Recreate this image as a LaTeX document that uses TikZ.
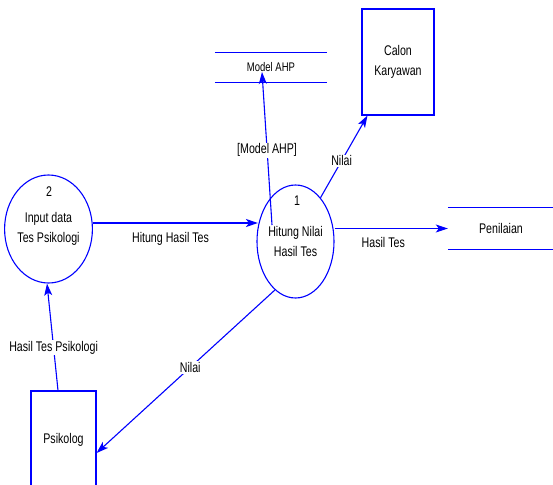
\documentclass[tikz,border=0pt]{standalone}
\usepackage{fontspec}
\setmainfont{Liberation Sans}[FakeStretch=0.76]
\usetikzlibrary{shapes.geometric,arrows.meta}
\begin{document}
\begin{tikzpicture}[x=1pt,y=-1pt, font=\fontsize{14pt}{20pt}\selectfont,
  flow/.style={draw=blue, line width=1.1pt, -{Stealth[length=12pt,width=8pt,inset=3pt]}},
  proc/.style={ellipse, draw=blue, line width=1.1pt, inner sep=0pt, align=center},
  ent/.style={rectangle, draw=blue, line width=1.1pt, align=center, inner sep=0pt},
  store/.style={rectangle, inner sep=0pt, align=center},
  storeline/.style={draw=blue, line width=1.1pt},
  lbl/.style={fill=white, inner sep=1pt},
  plain/.style={inner sep=0pt}
]
\useasboundingbox (0,0) rectangle (553,484);
\clip (0,0) rectangle (553,484);
\node[proc, minimum width=73pt, minimum height=108pt] (c2) at (48.5,229) {Input data\\Tes Psikologi};
\node[plain] (n2) at (49,192) {2};
\node[proc, minimum width=77pt, minimum height=113pt] (c1) at (295.5,241.5) {Hitung Nilai\\Hasil Tes};
\node[plain] (n1) at (297,201) {1};
\node[ent, minimum width=72pt, minimum height=106pt] (calon) at (398,62) {Calon\\Karyawan};
\node[ent, minimum width=65pt, minimum height=98pt] (psik) at (63.5,440) {Psikolog};
\node[store, minimum width=112pt, minimum height=30pt, font=\fontsize{12.5pt}{14pt}\selectfont] (ahp) at (271,67.5) {Model AHP};
\draw[storeline] (ahp.north west) -- (ahp.north east) (ahp.south west) -- (ahp.south east);
\node[store, minimum width=106pt, minimum height=41pt] (pen) at (501,228.5) {Penilaian};
\draw[storeline] (pen.north west) -- (pen.north east) (pen.south west) -- (pen.south east);
\coordinate (m0) at (272,225);
\coordinate (m1) at (262,72);
\draw[flow] (m0) -- node[lbl,pos=0.49]{[Model AHP]} (m1);
\draw[flow] ([yshift=6pt]c2.east) -- node[pos=0.47, yshift=-16pt]{Hitung Hasil Tes} ([xshift=1.5pt,yshift=18.5pt]c1.west);
\draw[flow] (c1.east |- pen.west) -- node[pos=0.43, yshift=-14pt]{Hasil Tes} (pen.west);
\draw[flow] (c1) -- node[lbl,pos=0.45]{Nilai} ([xshift=6pt]calon.south west);
\draw[flow] (c1.247) -- node[lbl,pos=0.475]{Nilai} ([yshift=-13pt]psik.east);
\draw[flow] ([xshift=-5.5pt]psik.north) -- node[lbl,pos=0.4]{Hasil Tes Psikologi} ([xshift=-1.5pt]c2.south);
\end{tikzpicture}
\end{document}
